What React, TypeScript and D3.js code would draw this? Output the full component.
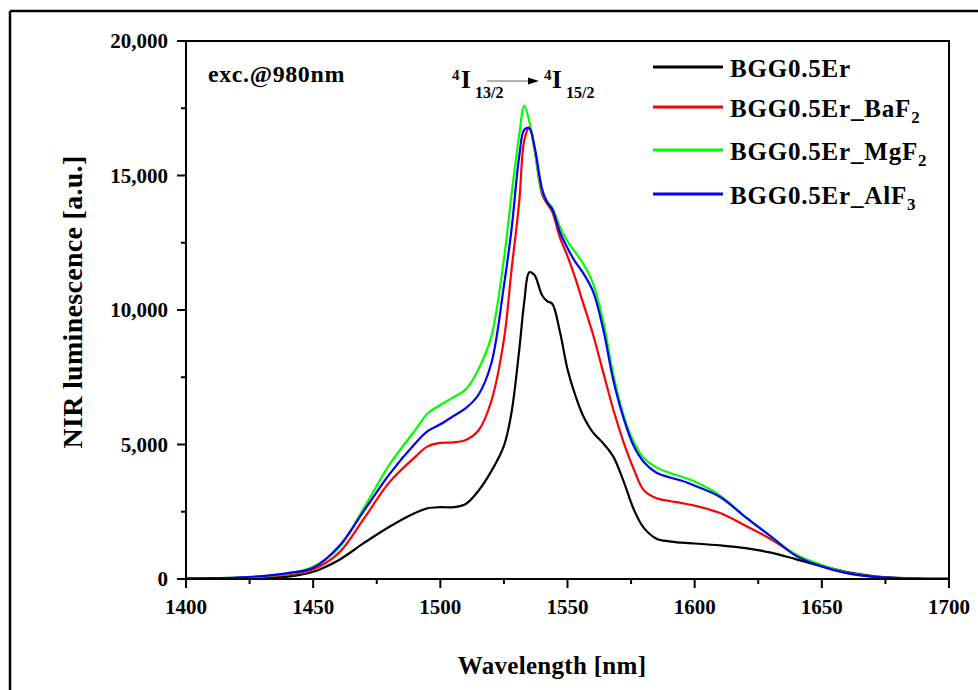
import React from "react";
import * as d3 from "d3";

const wavelengths = [1400,1410,1420,1430,1440,1450,1460,1470,1480,1490,1495,1500,1505,1510,1515,1520,1525,1528,1531,1533,1535,1537,1540,1542,1544,1547,1550,1553,1556,1560,1564,1568,1572,1576,1580,1585,1590,1595,1600,1610,1620,1630,1640,1650,1660,1670,1680,1690,1700];

const bgg = [10,20,30,50,90,270,700,1340,1940,2450,2630,2670,2670,2790,3280,4000,4950,6200,8500,10300,11400,11300,10550,10330,10230,9200,7800,6850,6100,5450,5050,4550,3650,2600,1900,1500,1400,1350,1320,1250,1150,980,730,480,260,110,40,10,5];
const baf2 = [10,20,40,80,170,360,960,2250,3600,4530,4930,5060,5080,5170,5520,6600,8900,11500,14000,16300,16800,16000,14300,13950,13650,12700,12000,11200,10300,9100,7700,6300,5100,4100,3300,3000,2900,2820,2730,2450,1980,1480,890,470,220,90,30,10,5];
const mgf2 = [15,25,50,100,200,460,1150,2650,4250,5520,6150,6470,6750,7050,7800,9000,11900,14300,16500,17600,17000,16000,14400,14050,13800,13100,12550,12150,11750,11000,9600,7600,6100,5100,4500,4150,3950,3800,3620,3100,2300,1580,900,520,240,90,30,10,5];
const alf3 = [20,30,55,110,220,420,1200,2540,3900,5030,5500,5750,6050,6350,6850,8000,10900,13000,15700,16700,16750,16100,14500,14000,13750,12900,12300,11800,11400,10700,9300,7400,6000,4950,4350,3950,3780,3650,3470,3050,2300,1580,850,470,220,85,30,10,5];

const seriesNames = ["BGG0.5Er", "BGG0.5Er_BaF", "BGG0.5Er_MgF", "BGG0.5Er_AlF"];
const seriesSubs = ["", "2", "2", "3"];
const seriesColors = ["#000000", "#ff0000", "#00ff00", "#0000ff"];
const seriesValues = [bgg, baf2, mgf2, alf3];
const drawOrder = [0, 1, 2, 3];

const xTicks = [1400, 1450, 1500, 1550, 1600, 1650, 1700];
const xMinor = [1425, 1475, 1525, 1575, 1625, 1675];
const yTicks = [0, 5000, 10000, 15000, 20000];
const yMinor = [2500, 7500, 12500, 17500];

const FONT = "'Liberation Serif', 'Times New Roman', serif";

export default function App() {
  const left = 186, right = 949, top = 41, bottom = 579;
  const x = d3.scaleLinear().domain([1400, 1700]).range([left, right]);
  const y = d3.scaleLinear().domain([0, 20000]).range([bottom, top]);
  const line = d3
    .line<number>()
    .x((_, i) => x(wavelengths[i]))
    .y((d) => y(d))
    .curve(d3.curveCatmullRom.alpha(0.5));
  const fmt = d3.format(",");

  return (
    <svg
      width={978}
      height={690}
      style={{ position: "absolute", left: 0, top: 0, background: "#fff" }}
      fontFamily={FONT}
      fontWeight="bold"
    >
      <rect x={0} y={0} width={978} height={690} fill="#fff" />
      {/* outer frame */}
      <line x1={10} y1={11} x2={978} y2={11} stroke="#000" strokeWidth={2.5} />
      <line x1={10} y1={11} x2={10} y2={690} stroke="#000" strokeWidth={2.5} />

      {/* curves */}
      {drawOrder.map((k) => (
        <path
          key={k}
          d={line(seriesValues[k]) || ""}
          fill="none"
          stroke={seriesColors[k]}
          strokeWidth={2.2}
          strokeLinejoin="round"
        />
      ))}

      {/* plot box */}
      <rect x={left} y={top} width={right - left} height={bottom - top} fill="none" stroke="#000" strokeWidth={2} />

      {/* x ticks */}
      {xTicks.map((t) => (
        <g key={t}>
          <line x1={x(t)} x2={x(t)} y1={bottom} y2={bottom + 9} stroke="#000" strokeWidth={2} />
          <text x={x(t)} y={614} textAnchor="middle" fontSize={21}>
            {t}
          </text>
        </g>
      ))}
      {xMinor.map((t) => (
        <line key={t} x1={x(t)} x2={x(t)} y1={bottom} y2={bottom + 5} stroke="#000" strokeWidth={2} />
      ))}

      {/* y ticks */}
      {yTicks.map((t) => (
        <g key={t}>
          <line x1={left - 9} x2={left} y1={y(t)} y2={y(t)} stroke="#000" strokeWidth={2} />
          <text x={168} y={y(t) + 7} textAnchor="end" fontSize={21}>
            {fmt(t)}
          </text>
        </g>
      ))}
      {yMinor.map((t) => (
        <line key={t} x1={left - 5} x2={left} y1={y(t)} y2={y(t)} stroke="#000" strokeWidth={2} />
      ))}

      {/* axis titles */}
      <text x={552} y={674} textAnchor="middle" fontSize={25} letterSpacing={0.3}>
        Wavelength [nm]
      </text>
      <text transform="translate(82,302) rotate(-90)" textAnchor="middle" fontSize={28} letterSpacing={0.3}>
        NIR luminescence [a.u.]
      </text>

      {/* excitation note */}
      <text x={208} y={82} fontSize={24} letterSpacing={0.6}>
        exc.@980nm
      </text>

      {/* transition annotation */}
      <text x={452} y={80} fontSize={15}>4</text>
      <text x={461} y={88} fontSize={25}>I</text>
      <text x={475} y={98} fontSize={16}>13/2</text>
      <line x1={487} y1={81} x2={530} y2={81} stroke="#666" strokeWidth={1} />
      <path d="M528,77.5 L539,81 L528,84.5 Z" fill="#000" />
      <text x={544} y={80} fontSize={15}>4</text>
      <text x={552} y={88} fontSize={25}>I</text>
      <text x={566} y={98} fontSize={16}>15/2</text>

      {/* legend */}
      {seriesNames.map((n, i) => {
        const ly = [67, 107, 150, 194][i];
        return (
          <g key={n}>
            <line x1={653} x2={723} y1={ly} y2={ly} stroke={seriesColors[i]} strokeWidth={3} />
            <text x={730} y={ly + 10} fontSize={25} letterSpacing={0.8}>
              {n}
              {seriesSubs[i] && (
                <tspan fontSize={17} dy={6}>
                  {seriesSubs[i]}
                </tspan>
              )}
            </text>
          </g>
        );
      })}
    </svg>
  );
}
